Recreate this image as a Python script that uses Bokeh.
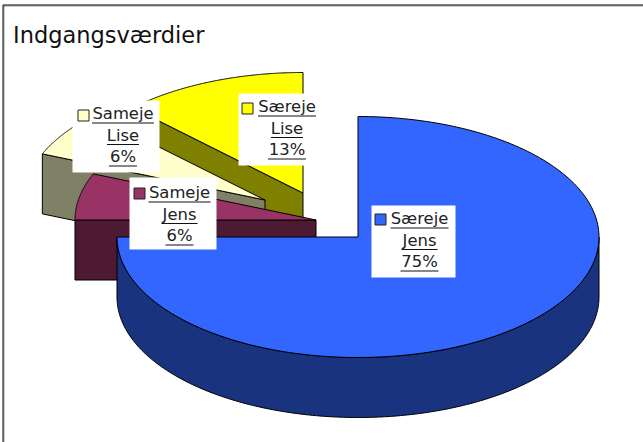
import numpy as np
from bokeh.plotting import figure
from bokeh.models import Range1d
from bokeh.core.properties import value
from bokeh.embed import file_html
from bokeh.resources import INLINE

# --- data ---
title_text = "Indgangsværdier"
categories = ["Særeje Jens", "Særeje Lise", "Sameje Lise", "Sameje Jens"]
shares = [75.0, 12.5, 6.25, 6.25]
percent_labels = ["75%", "13%", "6%", "6%"]
top_colors = ["#3366FF", "#FFFF00", "#FFFFCC", "#993366"]
wall_colors = ["#19337F", "#808000", "#808066", "#4D1933"]

# --- layout (reference pixels) ---
W, H = 643, 442
RX, RY, DEPTH = 241.0, 120.5, 60.0
apex = {"Særeje Jens": (357.5, 236.5), "Særeje Lise": (302.5, 192.5),
        "Sameje Lise": (264.5, 199.5), "Sameje Jens": (315.5, 219.5)}
boxes = {"Særeje Jens": (371, 205, 455, 277), "Særeje Lise": (238, 93, 307, 165),
         "Sameje Lise": (72, 100, 159, 172), "Sameje Jens": (129, 177, 216, 249)}
swatch = {"Særeje Jens": (374, 213), "Særeje Lise": (241, 102),
          "Sameje Lise": (77, 109), "Sameje Jens": (133, 187)}
text_cx = {"Særeje Jens": 419, "Særeje Lise": 286.5,
           "Sameje Lise": 122.5, "Sameje Jens": 179}
text_y0 = {"Særeje Jens": 225, "Særeje Lise": 113,
           "Sameje Lise": 120, "Sameje Jens": 199}
word_w = {"Særeje": 58, "Sameje": 62, "Jens": 36, "Lise": 32, "75%": 38, "13%": 38, "6%": 28}
FONT = "DejaVu Sans"
TEXT_SHIFT = -7

p = figure(width=W, height=H, x_range=Range1d(0, W), y_range=Range1d(H, 0),
           output_backend="svg", toolbar_location=None, min_border=0,
           outline_line_color=None,
           background_fill_color="white", border_fill_color="white")
p.axis.visible = False
p.grid.visible = False

# chart frame: top and left only, with a grey shadow edge
p.line([3.5, 3.5, W], [H, 5.5, 5.5], line_color="#999999", line_width=1)
p.line([2.5, 2.5, W], [H, 4.5, 4.5], line_color="#000000", line_width=1)

def ell(cx, cy, a):
    """a: degrees clockwise from 12 o'clock."""
    r = np.radians(a)
    return cx + RX * np.sin(r), cy - RY * np.cos(r)

# slice spans, clockwise from 12 o'clock; the 3 small slices run back from 360
spans = {}
spans[categories[0]] = (0.0, shares[0] * 3.6)
end = 360.0
for name, s in zip(categories[1:], shares[1:]):
    spans[name] = (end - s * 3.6, end)
    end -= s * 3.6

def draw_slice(i):
    name = categories[i]
    cx, cy = apex[name]
    a0, a1 = spans[name]
    wall, top = wall_colors[i], top_colors[i]
    lw = dict(line_color="black", line_width=1, line_join="round")
    if name == categories[0]:
        # outer curved wall, front half only
        a = np.linspace(90, 270, 240)
        x, y = ell(cx, cy, a)
        p.patch(np.r_[x, x[::-1]], np.r_[y, y[::-1] + DEPTH], fill_color=wall, **lw)
    else:
        x, y = ell(cx, cy, a0)
        p.patch([cx, x, x, cx], [cy, y, y + DEPTH, cy + DEPTH], fill_color=wall, **lw)
    a = np.linspace(a0, a1, 200)
    x, y = ell(cx, cy, a)
    p.patch(np.r_[cx, x], np.r_[cy, y], fill_color=top, **lw)

for i in [1, 2, 3, 0]:
    draw_slice(i)

# data labels
for i, name in enumerate(categories):
    x0, y0, x1, y1 = boxes[name]
    p.quad(left=x0, right=x1, top=y0, bottom=y1, fill_color="white", line_color=None)
    sx, sy = swatch[name]
    p.quad(left=sx + .5, right=sx + 11.5, top=sy + .5, bottom=sy + 11.5,
           fill_color=top_colors[i], line_color="#222222", line_width=1)
    lines = name.split() + [percent_labels[i]]
    for j, t in enumerate(lines):
        yb = text_y0[name] + j * 21.5
        p.text([text_cx[name]], [yb], text=[t], text_font=value(FONT), text_font_size="16.4px",
               text_align="center", text_baseline="alphabetic", text_color="#222222",
               y_offset=TEXT_SHIFT)
        w = word_w[t]
        p.segment([text_cx[name] - w / 2], [yb + 2.5], [text_cx[name] + w / 2], [yb + 2.5],
                  line_color="#111111", line_width=1)

p.text([12.5], [41], text=[title_text], text_font=value(FONT), text_font_size="22.5px",
       text_align="left", text_baseline="alphabetic", text_color="#111111",
       y_offset=TEXT_SHIFT)

open("out.html", "w").write(file_html(p, INLINE))
